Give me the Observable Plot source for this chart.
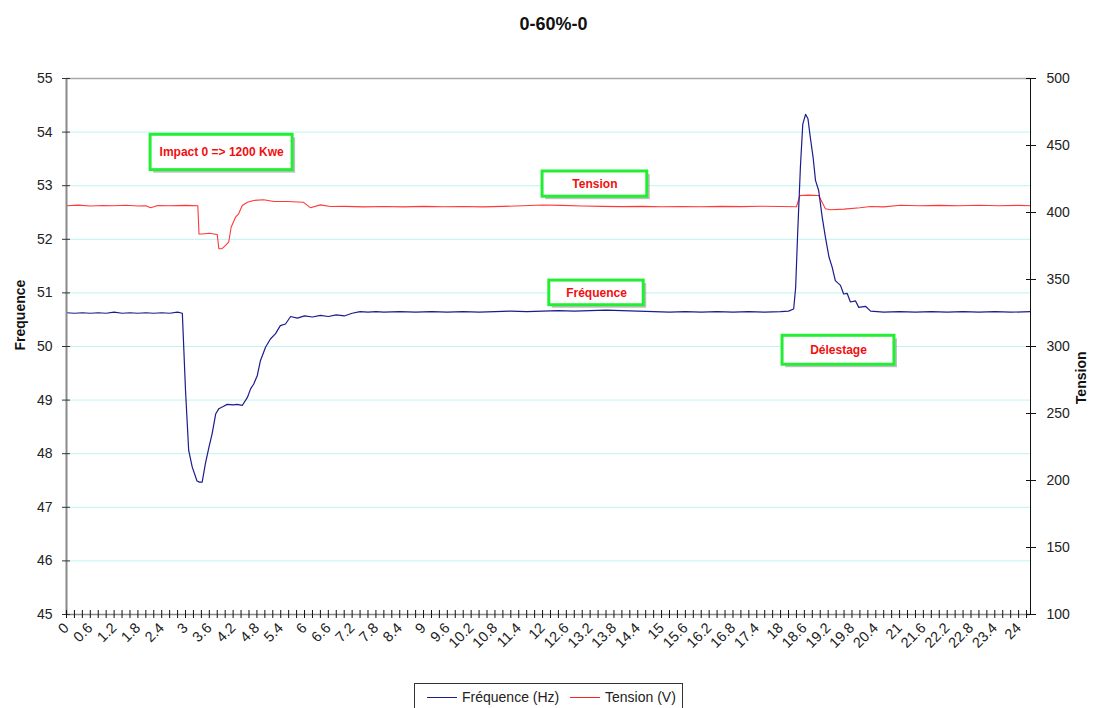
<!DOCTYPE html>
<html>
<head>
<meta charset="utf-8">
<script src="https://cdn.jsdelivr.net/npm/d3@7"></script>
<script src="https://cdn.jsdelivr.net/npm/@observablehq/plot@0.6"></script>
<style>
  html, body { margin: 0; padding: 0; background: #fff; overflow: hidden; }
  body { position: relative; width: 1094px; height: 708px; font-family: "Liberation Sans", Arial, sans-serif; }
  #legend { position: absolute; left: 414px; top: 683px; width: 269px; height: 32px; border: 1px solid #333; box-sizing: border-box; background: #fff; font-size: 14px; color: #222; }
  #legend .item { position: absolute; top: 5px; display: flex; align-items: center; white-space: nowrap; }
  #legend .sw { display: inline-block; width: 30px; height: 0; border-top: 1.5px solid; margin-right: 5px; }
</style>
</head>
<body>
<div id="chart"></div>
<div id="legend">
  <div class="item" style="left:12px"><span class="sw" style="border-color:#1c1c8c"></span>Fréquence (Hz)</div>
  <div class="item" style="left:155px"><span class="sw" style="border-color:#ff2222"></span>Tension (V)</div>
</div>
<script>
// ---- data ----
const title = "0-60%-0";
const freqTime = [0,0.2,0.4,0.6,0.8,1.0,1.2,1.4,1.6,1.8,2.0,2.2,2.4,2.6,2.8,2.92,3.00,3.08,3.17,3.29,3.35,3.42,3.50,3.59,3.67,3.76,3.84,3.95,4.05,4.2,4.3,4.43,4.56,4.64,4.72,4.81,4.89,5.02,5.14,5.27,5.39,5.52,5.65,5.82,6.0,6.2,6.4,6.6,6.8,7.0,7.2,7.4,7.6,7.8,8.0,8.4,8.8,9.2,9.6,10.0,10.4,10.8,11.2,11.6,12.0,12.4,12.8,13.2,13.6,14.0,14.4,14.8,15.2,15.6,16.0,16.4,16.8,17.2,17.6,18.0,18.2,18.33,18.38,18.43,18.50,18.56,18.63,18.69,18.75,18.82,18.88,18.96,19.05,19.13,19.22,19.30,19.38,19.51,19.59,19.68,19.76,19.89,19.97,20.14,20.27,20.6,21.0,21.4,21.8,22.2,22.6,23.0,23.4,23.8,24.3];
const freqHz = [50.63,50.62,50.63,50.62,50.63,50.62,50.64,50.62,50.63,50.62,50.63,50.62,50.63,50.62,50.64,50.62,49.18,48.06,47.75,47.49,47.47,47.47,47.81,48.12,48.37,48.74,48.84,48.88,48.92,48.91,48.92,48.90,49.05,49.21,49.30,49.46,49.74,49.99,50.14,50.24,50.39,50.42,50.56,50.53,50.57,50.55,50.58,50.56,50.59,50.57,50.62,50.65,50.64,50.65,50.64,50.65,50.64,50.65,50.64,50.65,50.64,50.65,50.66,50.65,50.66,50.67,50.66,50.67,50.68,50.67,50.66,50.65,50.64,50.65,50.64,50.65,50.64,50.65,50.64,50.65,50.66,50.70,51.1,52.1,53.35,54.15,54.33,54.25,53.9,53.53,53.1,52.91,52.41,52.04,51.67,51.48,51.23,51.14,50.98,50.99,50.83,50.85,50.73,50.75,50.66,50.64,50.65,50.64,50.65,50.64,50.65,50.64,50.65,50.64,50.65];
const tensionTime = [0,0.3,0.6,0.9,1.2,1.5,1.8,2.0,2.12,2.3,2.6,3.0,3.31,3.34,3.42,3.6,3.80,3.84,3.92,4.01,4.09,4.15,4.26,4.34,4.43,4.56,4.72,4.97,5.23,5.56,5.97,6.15,6.40,6.65,7.0,7.5,8.0,8.5,9.0,9.5,10.0,10.5,11.0,11.5,12.0,12.5,13.0,13.5,14.0,14.5,15.0,15.5,16.0,16.5,17.0,17.5,18.0,18.4,18.49,18.7,18.96,19.13,19.26,19.6,20.0,20.27,20.6,21.02,21.5,22.0,22.5,23.0,23.5,24.0,24.3];
const tensionV = [405,405.5,404.8,405.2,405,405.4,404.9,405,403.5,405.2,405,405.3,405,384,384,384.5,383.6,373,373,375.4,378,389,396.5,399,405.2,407.7,409,409.5,408.2,408.2,407.7,403.5,405.7,404.5,404.6,404.2,404.5,404.2,404.6,404.3,404.5,404.2,404.6,405,405.6,405.3,404.8,404.6,404.4,404.6,404.3,404.5,404.3,404.6,404.4,404.7,404.5,404.3,412.7,413,412.7,402.8,402,402.5,403.5,404.5,404.2,405.4,405,405.3,405,405.4,405,405.3,405];
const leftTicks = [45,46,47,48,49,50,51,52,53,54,55];
const rightTicks = [100,150,200,250,300,350,400,450,500];
const xMax = 24.3;
const xLabelStep = 0.6;
const xTickStep = 0.2;
// annotations: label, centre (time, Hz), half extents (time, Hz)
const noteText = ["Impact 0 => 1200 Kwe", "Tension", "Fréquence", "Délestage"];
const noteX = [3.91, 13.32, 13.36, 19.46];
const noteY = [53.62, 53.03, 51.0, 49.93];
const noteHalfW = [1.79, 1.32, 1.19, 1.41];
const noteHalfH = [0.33, 0.235, 0.23, 0.27];

// ---- derived ----
const toLeft = v => 45 + (v - 100) / 40;
const fromLeft = y => Math.round(100 + (y - 45) * 40);
const freq = freqTime.map((t, i) => ({t, v: freqHz[i]}));
const tension = tensionTime.map((t, i) => ({t, v: toLeft(tensionV[i])}));
const notes = noteText.map((s, i) => ({s, x: noteX[i], y: noteY[i], x1: noteX[i] - noteHalfW[i], x2: noteX[i] + noteHalfW[i], y1: noteY[i] - noteHalfH[i], y2: noteY[i] + noteHalfH[i]}));
const minorTicks = d3.range(0, Math.round(xMax / xTickStep) + 1).map(i => +(i * xTickStep).toFixed(1)).filter(d => d <= xMax);
const labelTicks = d3.range(0, Math.floor(xMax / xLabelStep) + 1).map(i => +(i * xLabelStep).toFixed(1));
const fmt = d => String(+d.toFixed(1));

const font = "Liberation Sans, Arial, sans-serif";
const chart = Plot.plot({
  width: 1094,
  height: 680,
  marginTop: 78,
  marginBottom: 66,
  marginLeft: 66,
  marginRight: 64,
  style: {fontFamily: font, fontSize: "14px", color: "#222", background: "#fff"},
  x: {domain: [0, xMax]},
  y: {domain: [45, 55]},
  marks: [
    Plot.ruleY(leftTicks.filter(d => d > 45 && d < 55), {stroke: "#bff3f3", strokeWidth: 1}),
    Plot.ruleY([55], {stroke: "#a8a8a8", strokeWidth: 1.5}),
    // annotation boxes
    Plot.rect(notes, {x1: "x1", x2: "x2", y1: "y1", y2: "y2", fill: "#8a8a8a", fillOpacity: 0.55, dx: 3, dy: 3}),
    Plot.rect(notes, {x1: "x1", x2: "x2", y1: "y1", y2: "y2", fill: "#fff", stroke: "#22ee33", strokeWidth: 3}),
    Plot.text(notes, {x: "x", y: "y", text: "s", fill: "#f01010", fontWeight: "bold", fontSize: 12}),
    // series
    Plot.line(tension, {x: "t", y: "v", stroke: "#ff3838", strokeWidth: 1.1}),
    Plot.line(freq, {x: "t", y: "v", stroke: "#1c1c8c", strokeWidth: 1.2}),
    // axes
    Plot.ruleX([0], {stroke: "#8a8a8a", strokeWidth: 2}),
    Plot.ruleX([xMax], {stroke: "#111", strokeWidth: 1}),
    Plot.ruleY([45], {stroke: "#8a8a8a", strokeWidth: 1.5}),
    Plot.axisY({anchor: "left", ticks: leftTicks, tickSize: 4, tickPadding: 10, label: null, stroke: "#333", fill: "#222", fontSize: 14}),
    Plot.axisY({anchor: "left", ticks: leftTicks, tickSize: 4, dx: 4, tickFormat: () => "", label: null, stroke: "#333"}),
    Plot.axisY({anchor: "right", ticks: rightTicks.map(toLeft), tickFormat: fromLeft, tickSize: 5, tickPadding: 11, label: null, stroke: "#111", fill: "#222", fontSize: 14}),
    Plot.axisY({anchor: "right", ticks: rightTicks.map(toLeft), tickSize: 5, dx: -5, tickFormat: () => "", label: null, stroke: "#111"}),
    Plot.axisX({anchor: "bottom", ticks: minorTicks, tickSize: 4, tickFormat: () => "", label: null, stroke: "#111"}),
    Plot.axisX({anchor: "bottom", ticks: minorTicks, tickSize: 4, dy: -4, tickFormat: () => "", label: null, stroke: "#111"}),
    Plot.axisX({anchor: "bottom", ticks: labelTicks, tickSize: 0, tickPadding: 11, tickRotate: -45, tickFormat: fmt, label: null, fill: "#222", fontSize: 14.5}),
    // titles
    Plot.text([title], {frameAnchor: "top", dy: -61, dx: 5, fontWeight: "bold", fontSize: 18, fill: "#111"}),
    Plot.text(["Frequence"], {frameAnchor: "left", dx: -46, dy: 4, rotate: -90, fontWeight: "bold", fontSize: 14, fill: "#111"}),
    Plot.text(["Tension"], {frameAnchor: "right", dx: 51, dy: 5, rotate: -90, fontWeight: "bold", fontSize: 14, fill: "#111"})
  ]
});
document.getElementById("chart").appendChild(chart);
</script>
</body>
</html>
